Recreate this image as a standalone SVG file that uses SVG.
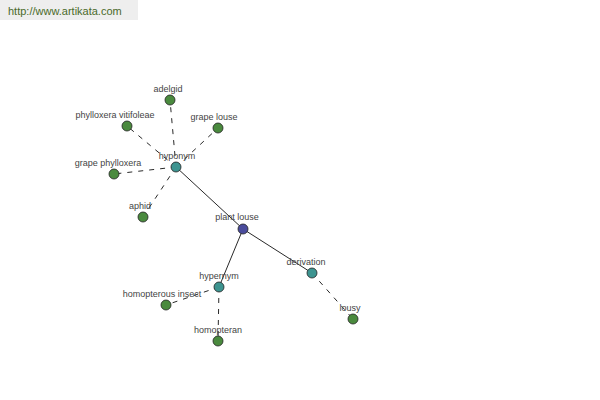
<svg xmlns="http://www.w3.org/2000/svg" width="600" height="400" viewBox="0 0 600 400">
<style>
.lbl{font-family:"Liberation Sans",Arial,sans-serif;font-size:9px;fill:#444;text-anchor:middle}
.n{stroke:#222;stroke-width:0.8}
.leaf{fill:#4a8a3e}
.rel{fill:#3d9490}
.root{fill:#4a4c9c}
.e{stroke:#111;stroke-width:0.9;fill:none}
.d{stroke-dasharray:5,6}
</style>
<rect x="0" y="0" width="138" height="20" fill="#eeeeee"/>
<text x="8" y="15" font-family="Liberation Sans,Arial,sans-serif" font-size="11" fill="#4a6a2a">http://www.artikata.com</text>
<g id="connectors">
<line class="e" x1="176" y1="167" x2="243" y2="229"/>
<line class="e" x1="243" y1="229" x2="219" y2="287"/>
<line class="e" x1="243" y1="229" x2="312" y2="273"/>
<line class="e d" x1="176" y1="167" x2="170" y2="100"/>
<line class="e d" x1="176" y1="167" x2="127" y2="126"/>
<line class="e d" x1="176" y1="167" x2="218" y2="128"/>
<line class="e d" x1="176" y1="167" x2="114" y2="174"/>
<line class="e d" x1="176" y1="167" x2="143" y2="217"/>
<line class="e d" x1="219" y1="287" x2="166" y2="305"/>
<line class="e d" x1="219" y1="287" x2="218" y2="341"/>
<line class="e d" x1="312" y1="273" x2="353" y2="319"/>
</g>
<g id="adelgid"><circle class="n leaf" cx="170" cy="100" r="5"/><text class="lbl" x="168" y="92">adelgid</text></g>
<g id="phylloxera-vitifoleae"><circle class="n leaf" cx="127" cy="126" r="5"/><text class="lbl" x="115" y="118">phylloxera vitifoleae</text></g>
<g id="grape-louse"><circle class="n leaf" cx="218" cy="128" r="5"/><text class="lbl" x="214" y="120">grape louse</text></g>
<g id="grape-phylloxera"><circle class="n leaf" cx="114" cy="174" r="5"/><text class="lbl" x="108" y="166">grape phylloxera</text></g>
<g id="aphid"><circle class="n leaf" cx="143" cy="217" r="5"/><text class="lbl" x="140" y="209">aphid</text></g>
<g id="hyponym"><circle class="n rel" cx="176" cy="167" r="5"/><text class="lbl" x="177" y="159">hyponym</text></g>
<g id="plant-louse"><circle class="n root" cx="243" cy="229" r="5"/><text class="lbl" x="237" y="220">plant louse</text></g>
<g id="derivation"><circle class="n rel" cx="312" cy="273" r="5"/><text class="lbl" x="306" y="265">derivation</text></g>
<g id="hypernym"><circle class="n rel" cx="219" cy="287" r="5"/><text class="lbl" x="219" y="279">hypernym</text></g>
<g id="homopterous-insect"><circle class="n leaf" cx="166" cy="305" r="5"/><text class="lbl" x="162" y="297">homopterous insect</text></g>
<g id="lousy"><circle class="n leaf" cx="353" cy="319" r="5"/><text class="lbl" x="350" y="311">lousy</text></g>
<g id="homopteran"><circle class="n leaf" cx="218" cy="341" r="5"/><text class="lbl" x="218" y="333">homopteran</text></g>
</svg>
